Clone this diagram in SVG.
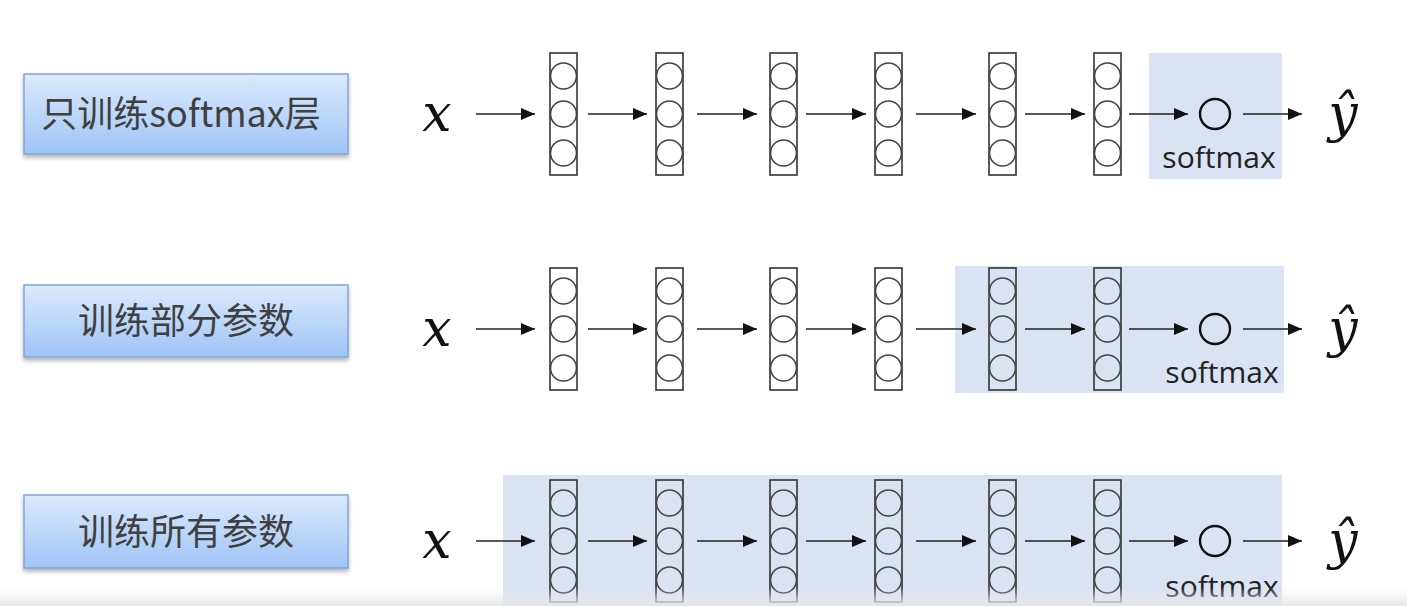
<svg xmlns="http://www.w3.org/2000/svg" width="1407" height="606" viewBox="0 0 1407 606">
<defs>
<linearGradient id="btn" x1="0" y1="0" x2="0" y2="1">
<stop offset="0" stop-color="#dceafc"/>
<stop offset="1" stop-color="#9ec4f6"/>
</linearGradient>
<linearGradient id="band" x1="0" y1="0" x2="0" y2="1">
<stop offset="0" stop-color="#ececec" stop-opacity="0"/>
<stop offset="1" stop-color="#e4e4e4" stop-opacity="0.95"/>
</linearGradient>
<filter id="sh" x="-10%" y="-20%" width="120%" height="150%">
<feDropShadow dx="0" dy="3" stdDeviation="2" flood-color="#000" flood-opacity="0.3"/>
</filter>
<marker id="ah" markerUnits="userSpaceOnUse" markerWidth="15" markerHeight="14" refX="14" refY="7" orient="auto">
<path d="M0,1 L14,7 L0,13 z" fill="#111"/>
</marker>
<g id="col">
<rect x="0" y="-61" width="27" height="122" fill="none" stroke="#333" stroke-width="1.6"/>
<circle cx="13.5" cy="-38" r="13" fill="none" stroke="#444" stroke-width="1.6"/>
<circle cx="13.5" cy="0" r="13" fill="none" stroke="#444" stroke-width="1.6"/>
<circle cx="13.5" cy="39" r="13" fill="none" stroke="#444" stroke-width="1.6"/>
</g>
</defs>
<style>
.lbl{font-family:"Noto Sans CJK SC","Noto Sans",sans-serif;font-size:36px;fill:#404040;text-anchor:middle}
.sm{font-family:"Open Sans","Noto Sans",sans-serif;font-size:30px;fill:#222;text-anchor:middle}
.math{font-family:"DejaVu Serif","Liberation Serif",serif;font-style:italic;font-size:52px;fill:#111;text-anchor:middle}
.hl{fill:#dae3f3}
.box{fill:url(#btn);stroke:#7fa6da;stroke-width:1.5;filter:url(#sh)}
.conn line{stroke:#222;stroke-width:1.6;marker-end:url(#ah)}
</style>
<rect width="1407" height="606" fill="#ffffff"/>

<!-- highlights -->
<rect class="hl" x="1149" y="53" width="133" height="126"/>
<rect class="hl" x="955" y="266" width="329" height="127"/>
<rect class="hl" x="503" y="475" width="779" height="131"/>

<!-- row labels -->
<g id="label1"><rect class="box" x="24" y="74" width="324" height="80"/><text class="lbl" x="181" y="127">只训练softmax层</text></g>
<g id="label2"><rect class="box" x="24" y="285" width="324" height="72"/><text class="lbl" x="186" y="334">训练部分参数</text></g>
<g id="label3"><rect class="box" x="24" y="495" width="324" height="73"/><text class="lbl" x="186" y="545">训练所有参数</text></g>

<!-- row 1 -->
<g id="row1">
<g id="r1-x"><text class="math" x="437" y="131">x</text></g>
<use id="r1-l1" href="#col" x="550" y="114"/>
<use id="r1-l2" href="#col" x="656" y="114"/>
<use id="r1-l3" href="#col" x="770" y="114"/>
<use id="r1-l4" href="#col" x="875" y="114"/>
<use id="r1-l5" href="#col" x="989" y="114"/>
<use id="r1-l6" href="#col" x="1094" y="114"/>
<g id="r1-softmax"><circle cx="1215" cy="114" r="15" fill="none" stroke="#111" stroke-width="2.4"/><text class="sm" x="1219" y="168">softmax</text></g>
<g id="r1-y"><text class="math" x="1343" y="131">ŷ</text></g>
</g>

<!-- row 2 -->
<g id="row2">
<g id="r2-x"><text class="math" x="437" y="346">x</text></g>
<use id="r2-l1" href="#col" x="550" y="329"/>
<use id="r2-l2" href="#col" x="656" y="329"/>
<use id="r2-l3" href="#col" x="770" y="329"/>
<use id="r2-l4" href="#col" x="875" y="329"/>
<use id="r2-l5" href="#col" x="989" y="329"/>
<use id="r2-l6" href="#col" x="1094" y="329"/>
<g id="r2-softmax"><circle cx="1215" cy="329" r="15" fill="none" stroke="#111" stroke-width="2.4"/><text class="sm" x="1222" y="383">softmax</text></g>
<g id="r2-y"><text class="math" x="1343" y="346">ŷ</text></g>
</g>

<!-- row 3 -->
<g id="row3">
<g id="r3-x"><text class="math" x="437" y="558">x</text></g>
<use id="r3-l1" href="#col" x="550" y="541"/>
<use id="r3-l2" href="#col" x="656" y="541"/>
<use id="r3-l3" href="#col" x="770" y="541"/>
<use id="r3-l4" href="#col" x="875" y="541"/>
<use id="r3-l5" href="#col" x="989" y="541"/>
<use id="r3-l6" href="#col" x="1094" y="541"/>
<g id="r3-softmax"><circle cx="1215" cy="541" r="15" fill="none" stroke="#111" stroke-width="2.4"/><text class="sm" x="1222" y="597">softmax</text></g>
<g id="r3-y"><text class="math" x="1343" y="558">ŷ</text></g>
</g>

<!-- connectors -->
<g id="connectors" class="conn">
<line x1="476" y1="114" x2="535" y2="114"/>
<line x1="588" y1="114" x2="647" y2="114"/>
<line x1="697" y1="114" x2="757" y2="114"/>
<line x1="806" y1="114" x2="866" y2="114"/>
<line x1="916" y1="114" x2="976" y2="114"/>
<line x1="1025" y1="114" x2="1085" y2="114"/>
<line x1="1129" y1="114" x2="1188" y2="114"/>
<line x1="1243" y1="114" x2="1302" y2="114"/>
<line x1="476" y1="329" x2="535" y2="329"/>
<line x1="588" y1="329" x2="647" y2="329"/>
<line x1="697" y1="329" x2="757" y2="329"/>
<line x1="806" y1="329" x2="866" y2="329"/>
<line x1="916" y1="329" x2="976" y2="329"/>
<line x1="1025" y1="329" x2="1085" y2="329"/>
<line x1="1129" y1="329" x2="1188" y2="329"/>
<line x1="1243" y1="329" x2="1302" y2="329"/>
<line x1="476" y1="541" x2="535" y2="541"/>
<line x1="588" y1="541" x2="647" y2="541"/>
<line x1="697" y1="541" x2="757" y2="541"/>
<line x1="806" y1="541" x2="866" y2="541"/>
<line x1="916" y1="541" x2="976" y2="541"/>
<line x1="1025" y1="541" x2="1085" y2="541"/>
<line x1="1129" y1="541" x2="1188" y2="541"/>
<line x1="1243" y1="541" x2="1302" y2="541"/>
</g>

<rect x="0" y="588" width="1407" height="18" fill="url(#band)"/>
</svg>
